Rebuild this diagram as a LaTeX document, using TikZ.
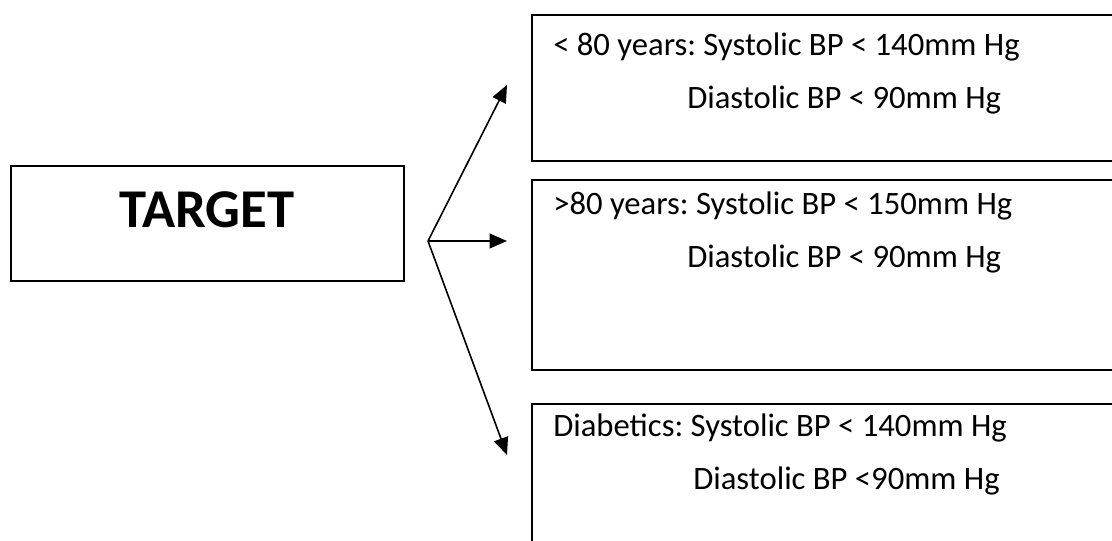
\documentclass[tikz,border=0pt]{standalone}
\usepackage{fontspec}
\setmainfont{Carlito}
\frenchspacing
\usetikzlibrary{
    arrows.meta,
    fit
}

\begin{document}
\begin{tikzpicture}[
  x=0.75pt, y=-0.75pt,
  box/.style={draw, line width=1.2pt, inner sep=0pt},
  txt/.style={anchor=base west, inner sep=0pt, font=\fontsize{24.5}{29}\selectfont},
  arrow/.style={line width=1.2pt, -{Triangle[length=13pt, width=11pt]}}
]
\useasboundingbox (0,0) rectangle (1112,541);

\node[box, fit={(11,166) (404,281)}] (target) {};
\node[anchor=base, inner sep=0pt, font=\fontsize{41}{49}\selectfont\bfseries] (targettext) at (207,228) {TARGET};

\node[box, fit={(532,15) (1130,161)}]  (young) {};
\node[box, fit={(532,180) (1130,370)}] (old) {};
\node[box, fit={(532,404) (1130,560)}] (diab) {};

\node[txt] (young1) at (553,56)  {< 80 years: Systolic BP < 140mm Hg};
\node[txt] (young2) at (687,109) {Diastolic BP < 90mm Hg};
\node[txt] (old1)   at (553,215) {>80 years: Systolic BP < 150mm Hg};
\node[txt] (old2)   at (687,268) {Diastolic BP < 90mm Hg};
\node[txt] (diab1)  at (553,436) {Diabetics: Systolic BP < 140mm Hg};
\node[txt] (diab2)  at (693,489) {Diastolic BP <90mm Hg};

\coordinate (split) at (428,241);
\coordinate (toyoung) at (507,85);
\coordinate (toold)   at (507,241);
\coordinate (todiab)  at (507,455);

\draw[arrow] (split) -- (toyoung);
\draw[arrow] (split) -- (toold);
\draw[arrow] (split) -- (todiab);

\end{tikzpicture}
\end{document}
